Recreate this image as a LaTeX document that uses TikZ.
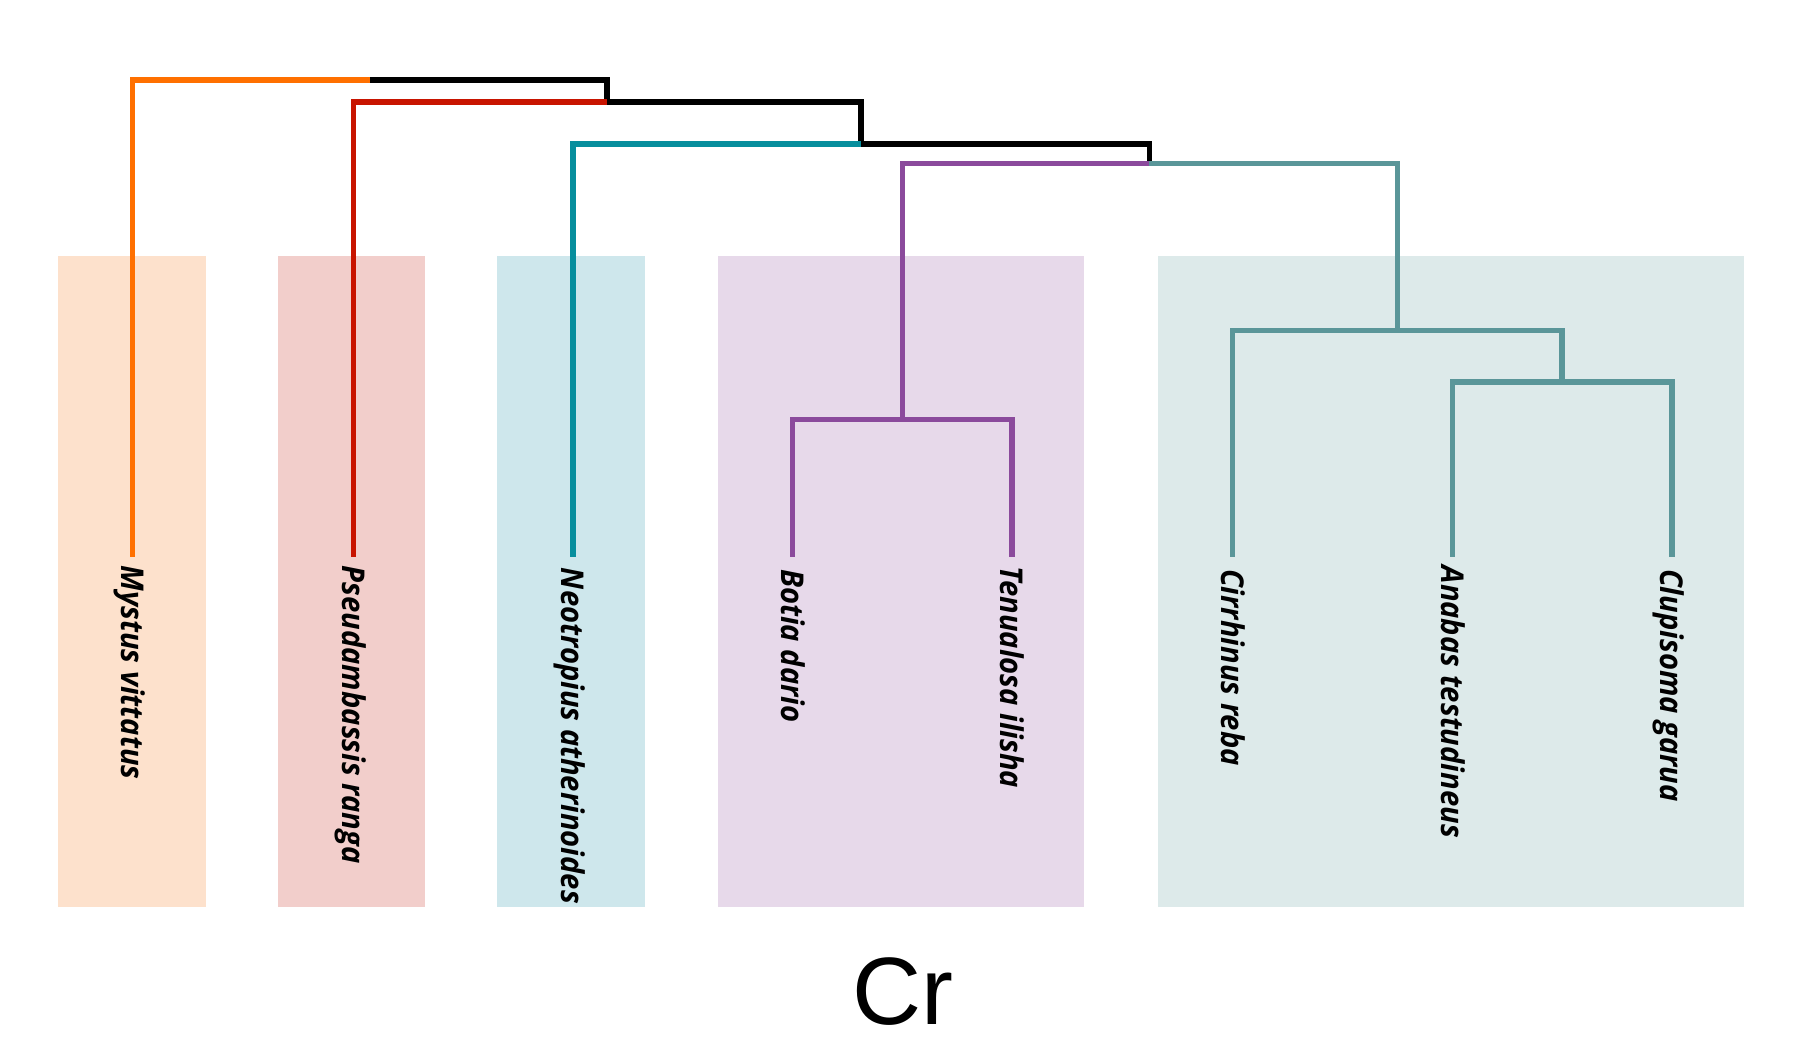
\documentclass[tikz,border=0pt]{standalone}
\usepackage{fontspec}
\setmainfont{Liberation Sans}
\newfontfamily\labfont{Open Sans}[BoldItalicFeatures={FakeStretch=0.93}]
\usetikzlibrary{calc}
\definecolor{corange}{HTML}{FF7000}
\definecolor{cred}{HTML}{C81400}
\definecolor{ccyan}{HTML}{078E9D}
\definecolor{cpurple}{HTML}{8B4A9C}
\definecolor{cteal}{HTML}{5A9699}
\definecolor{borange}{HTML}{FDE1CC}
\definecolor{bred}{HTML}{F2CECB}
\definecolor{bcyan}{HTML}{CEE7EC}
\definecolor{bpurple}{HTML}{E7D9EA}
\definecolor{bteal}{HTML}{DDEAEA}
\begin{document}
\begin{tikzpicture}[x=0.01cm,y=-0.01cm,
  branch/.style={line width=1.35pt, line cap=butt, line join=miter, draw=#1},
  clade/.style={fill=#1, draw=none},
  lab/.style={rotate=-90, anchor=base west, inner sep=0pt, font=\labfont\bfseries\itshape\fontsize{7.8pt}{9pt}\selectfont, text=black},
  title/.style={anchor=base, inner sep=0pt, font=\fontsize{23.8pt}{28pt}\selectfont}]
\useasboundingbox (0,0) rectangle (1568,920);
% clade boxes
\fill[clade=borange] (51,224) rectangle (180,793);
\fill[clade=bred] (243,224) rectangle (372,793);
\fill[clade=bcyan] (435,224) rectangle (564,793);
\fill[clade=bpurple] (628,224) rectangle (948,793);
\fill[clade=bteal] (1013,224) rectangle (1525,793);
% tips
\coordinate (t1) at (116,487);
\coordinate (t2) at (309,487);
\coordinate (t3) at (501,487);
\coordinate (t4) at (693,487);
\coordinate (t5) at (885,487);
\coordinate (t6) at (1078,487);
\coordinate (t7) at (1270,487);
\coordinate (t8) at (1462,487);
% internal nodes
\coordinate (root) at (323.5,70);
\coordinate (n2) at (531,89);
\coordinate (n3) at (753,126);
\coordinate (n4) at (1005,143);
\coordinate (np) at (789,367);
\coordinate (nt) at (1222,289);
\coordinate (nt2) at (1366,334);
% branches
\draw[branch=corange] (t1) |- (root);
\draw[branch=black] (n2) |- (root);
\draw[branch=cred] (t2) |- (n2);
\draw[branch=black] (n3) |- (n2);
\draw[branch=ccyan] (t3) |- (n3);
\draw[branch=black] (n4) |- (n3);
\draw[branch=cpurple] (np) |- (n4);
\draw[branch=cteal] (nt) |- (n4);
\draw[branch=cpurple] (t4) |- (np);
\draw[branch=cpurple] (t5) |- (np);
\draw[branch=cteal] (t6) |- (nt);
\draw[branch=cteal] (nt2) |- (nt);
\draw[branch=cteal] (t7) |- (nt2);
\draw[branch=cteal] (t8) |- (nt2);
% labels
\node[lab] (l1) at ($(t1)+(-9.75,7)$) {Mystus vittatus};
\node[lab] (l2) at ($(t2)+(-9.75,7)$) {Pseudambassis ranga};
\node[lab] (l3) at ($(t3)+(-9.75,9)$) {Neotropius atherinoides};
\node[lab] (l4) at ($(t4)+(-9.75,10)$) {Botia dario};
\node[lab] (l5) at ($(t5)+(-9.75,8)$) {Tenualosa ilisha};
\node[lab] (l6) at ($(t6)+(-9.75,10)$) {Cirrhinus reba};
\node[lab] (l7) at ($(t7)+(-9.75,7)$) {Anabas testudineus};
\node[lab] (l8) at ($(t8)+(-9.75,10)$) {Clupisoma garua};
\node[title] (cr) at (790,896) {Cr};
\end{tikzpicture}
\end{document}
